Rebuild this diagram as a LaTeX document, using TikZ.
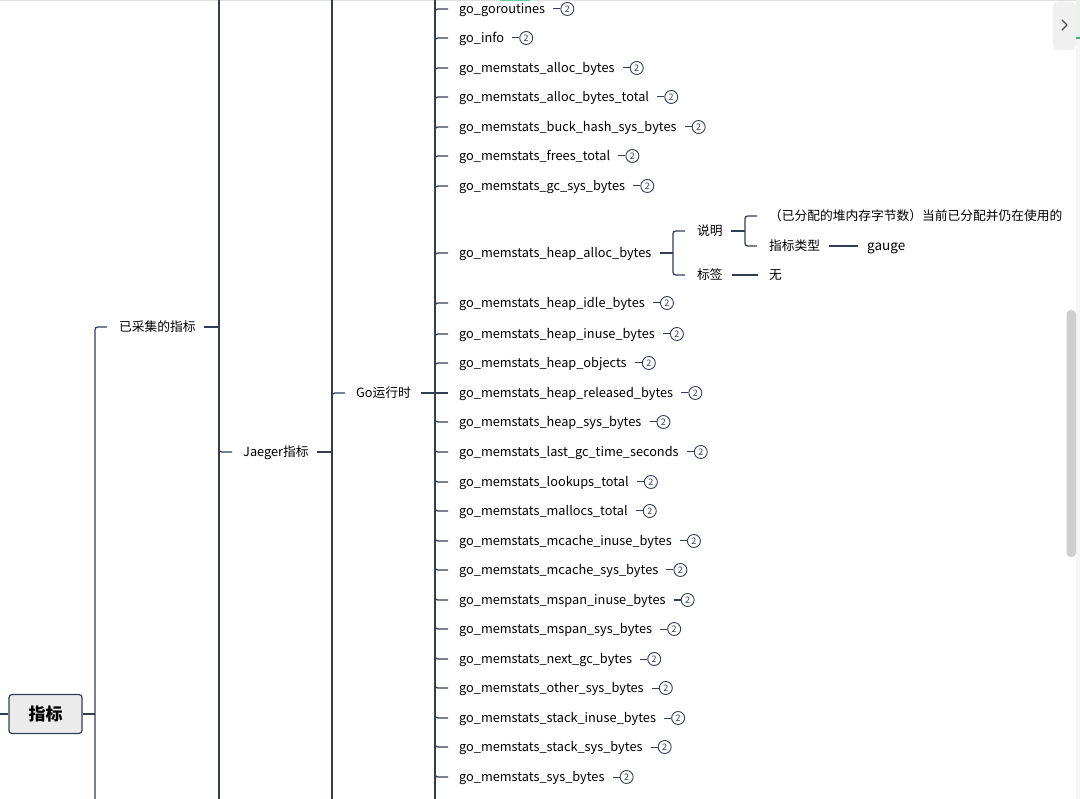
\documentclass[tikz,border=0pt]{standalone}
\usepackage{fontspec}
\setmainfont{Noto Sans CJK SC}
\definecolor{ln}{HTML}{333D55}
\definecolor{tabgray}{HTML}{F0F0F0}
\definecolor{scr}{HTML}{CFCFCF}
\definecolor{topgray}{HTML}{E0E0E0}
\definecolor{grn}{HTML}{2BB673}
\definecolor{grnlt}{HTML}{E2F4EC}
\definecolor{rootfill}{HTML}{EBEBEB}
\begin{document}
\begin{tikzpicture}[x=1pt,y=-1pt,
  conn/.style={draw=ln,line width=1.3pt},
  lbl/.style={inner sep=0pt,anchor=base west,font=\fontsize{12.75}{15}\selectfont,text=black},
  badge/.style={circle,draw=ln,line width=0.9pt,minimum size=13pt,inner sep=0pt,font=\fontsize{9}{9}\selectfont,text=ln}]
\useasboundingbox (0,0) rectangle (1080,799);
% top strip
\fill[topgray] (0,0) rectangle (1080,1.5);
\fill[grn!70] (500,0) rectangle (530,1.5);
% right panel
\fill[grnlt] (1076,0) rectangle (1080,38);
\fill[grn] (1076,37.5) rectangle (1080,39.5);
\fill[black!4] (1076,39.5) rectangle (1080,799);
\fill[tabgray,rounded corners=5pt] (1053,1.5) -- (1076,1.5) -- (1076,50) -- (1053,50) -- cycle;
\draw[black!70,line width=1.2pt,line cap=round,line join=round] (1062,20) -- (1067,25) -- (1062,30);
\fill[scr,rounded corners=4pt] (1066.5,310) rectangle (1076,557);

% root
\node[draw=ln,fill=rootfill,rounded corners=3pt,line width=1.2pt,minimum width=73pt,minimum height=39pt,inner sep=0pt,font=\fontsize{17}{17}\selectfont\bfseries] (root) at (45.5,714) {指标};
\coordinate (rl) at (0,714);
\draw[ln,line width=2.5pt] (rl) -- (root.west);
\coordinate (v1) at (95,714);
\draw[conn] (root.east) -- (v1);
% level 1 vertical
\draw[conn] (95,799) -- (95,333) .. controls (95,327) .. (101,327) -- (107,327);
\node[lbl] (n1) at (119,331.5) {已采集的指标};
% level 2
\draw[conn] (n1.east |- 0,327) ++(8,0) coordinate (n1e) -- (219,327);
\draw[conn] (219,0) -- (219,799);
\draw[conn] (219,446) .. controls (219,452) .. (225,452) -- (232,452);
\node[lbl] (n2) at (243,456.5) {Jaeger指标};
\draw[conn] (317,452) -- (332,452);
% level 3
\draw[conn] (332,0) -- (332,799);
\draw[conn] (332,399) .. controls (332,393) .. (338,393) -- (345,393);
\node[lbl] (n3) at (356,397.5) {Go运行时};
\draw[conn] (421,393) -- (435,393);
% level 4
\draw[conn] (435,0) -- (435,799);
\foreach \t/\y/\b in {
 go\_goroutines/9/1,
 go\_info/38/1,
 go\_memstats\_alloc\_bytes/68/1,
 go\_memstats\_alloc\_bytes\_total/97/1,
 go\_memstats\_buck\_hash\_sys\_bytes/127/1,
 go\_memstats\_frees\_total/156/1,
 go\_memstats\_gc\_sys\_bytes/186/1,
 go\_memstats\_heap\_alloc\_bytes/253/0,
 go\_memstats\_heap\_idle\_bytes/303/1,
 go\_memstats\_heap\_inuse\_bytes/334/1,
 go\_memstats\_heap\_objects/363/1,
 go\_memstats\_heap\_released\_bytes/393/1,
 go\_memstats\_heap\_sys\_bytes/422/1,
 go\_memstats\_last\_gc\_time\_seconds/452/1,
 go\_memstats\_lookups\_total/482/1,
 go\_memstats\_mallocs\_total/511/1,
 go\_memstats\_mcache\_inuse\_bytes/541/1,
 go\_memstats\_mcache\_sys\_bytes/570/1,
 go\_memstats\_mspan\_inuse\_bytes/600/1,
 go\_memstats\_mspan\_sys\_bytes/629/1,
 go\_memstats\_next\_gc\_bytes/659/1,
 go\_memstats\_other\_sys\_bytes/688/1,
 go\_memstats\_stack\_inuse\_bytes/718/1,
 go\_memstats\_stack\_sys\_bytes/747/1,
 go\_memstats\_sys\_bytes/777/1}{
  \ifnum\y<393
    \draw[conn] (435,\y+6) .. controls (435,\y) .. (441,\y) -- (448,\y);
  \else\ifnum\y>393
    \draw[conn] (435,\y-6) .. controls (435,\y) .. (441,\y) -- (448,\y);
  \else
    \draw[conn] (435,\y) -- (448,\y);
  \fi\fi
  \node[lbl] (it\y) at (459,\y+4.6) {\t};
  \ifnum\b=1
    \coordinate (ie\y) at (it\y.east |- 0,\y);
    \draw[conn,line width=1pt] ([xshift=8pt]ie\y) -- ([xshift=15pt]ie\y) node[badge,anchor=west] (bd\y) {2};
  \fi
}
% heap_alloc details
\coordinate (ha) at (it253.east |- 0,253);
\draw[conn] ([xshift=8pt]ha) -- (673,253);
\draw[conn] (685,231) -- (679,231) .. controls (673,231) .. (673,237) -- (673,269) .. controls (673,275) .. (679,275) -- (685,275);
\node[lbl] (sm) at (697,235.6) {说明};
\node[lbl] (bq) at (697,279.6) {标签};
\draw[conn] (731,231) -- (745,231);
\draw[conn] (757,216) -- (751,216) .. controls (745,216) .. (745,222) -- (745,240) .. controls (745,246) .. (751,246) -- (757,246);
\node[lbl] (desc) at (769,220.6) {（已分配的堆内存字节数）当前已分配并仍在使用的};
\node[lbl] (lx) at (769,250.6) {指标类型};
\draw[conn] (829,246) -- (858,246);
\node[lbl,font=\fontsize{13.5}{15}\selectfont] (gauge) at (867,250.6) {gauge};
\draw[conn] (732,275) -- (758,275);
\node[lbl] (wu) at (769,279.6) {无};
\end{tikzpicture}
\end{document}
